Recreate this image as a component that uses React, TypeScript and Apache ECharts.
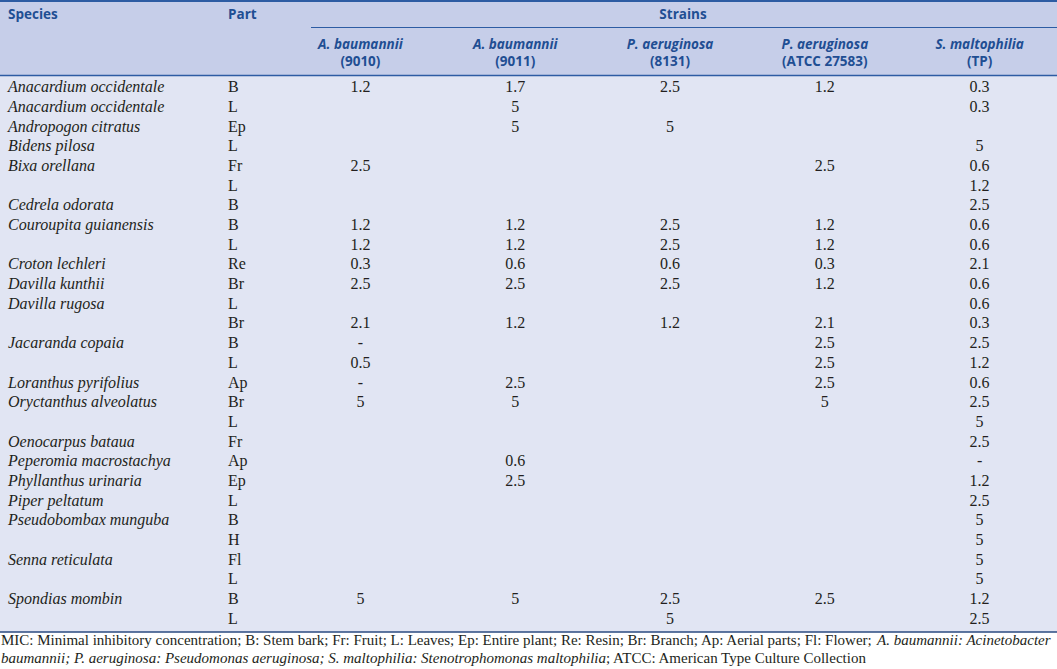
import React, { useEffect, useRef } from "react";
import * as echarts from "echarts";

const strainNames = ["A. baumannii", "A. baumannii", "P. aeruginosa", "P. aeruginosa", "S. maltophilia"];
const strainIds = ["(9010)", "(9011)", "(8131)", "(ATCC 27583)", "(TP)"];

const species = [
  "Anacardium occidentale", "Anacardium occidentale", "Andropogon citratus", "Bidens pilosa",
  "Bixa orellana", "", "Cedrela odorata", "Couroupita guianensis", "", "Croton lechleri",
  "Davilla kunthii", "Davilla rugosa", "", "Jacaranda copaia", "", "Loranthus pyrifolius",
  "Oryctanthus alveolatus", "", "Oenocarpus bataua", "Peperomia macrostachya",
  "Phyllanthus urinaria", "Piper peltatum", "Pseudobombax munguba", "", "Senna reticulata",
  "", "Spondias mombin", "",
];
const parts = [
  "B", "L", "Ep", "L", "Fr", "L", "B", "B", "L", "Re", "Br", "L", "Br", "B", "L", "Ap",
  "Br", "L", "Fr", "Ap", "Ep", "L", "B", "H", "Fl", "L", "B", "L",
];
const ab9010 = ["1.2", "", "", "", "2.5", "", "", "1.2", "1.2", "0.3", "2.5", "", "2.1", "-", "0.5", "-", "5", "", "", "", "", "", "", "", "", "", "5", ""];
const ab9011 = ["1.7", "5", "5", "", "", "", "", "1.2", "1.2", "0.6", "2.5", "", "1.2", "", "", "2.5", "5", "", "", "0.6", "2.5", "", "", "", "", "", "5", ""];
const pa8131 = ["2.5", "", "5", "", "", "", "", "2.5", "2.5", "0.6", "2.5", "", "1.2", "", "", "", "", "", "", "", "", "", "", "", "", "", "2.5", "5"];
const pa27583 = ["1.2", "", "", "", "2.5", "", "", "1.2", "1.2", "0.3", "1.2", "", "2.1", "2.5", "2.5", "2.5", "5", "", "", "", "", "", "", "", "", "", "2.5", ""];
const smTP = ["0.3", "0.3", "", "5", "0.6", "1.2", "2.5", "0.6", "0.6", "2.1", "0.6", "0.6", "0.3", "2.5", "1.2", "0.6", "2.5", "5", "2.5", "-", "1.2", "2.5", "5", "5", "5", "5", "1.2", "2.5"];

const columns = [ab9010, ab9011, pa8131, pa27583, smTP];

const HEAD_BLUE = "#1f4e93";
const LINE_BLUE = "#2d5ca3";
const TEXT = "#231f20";
const SERIF = "'Liberation Serif', 'Times New Roman', serif";
const SANS = "'Open Sans', 'Noto Sans', sans-serif";

export default function App() {
  const ref = useRef<HTMLDivElement>(null);
  useEffect(() => {
    if (!ref.current) return;
    const chart = echarts.init(ref.current, null, { renderer: "svg" });
    const rowIdx = parts.map((_, i) => String(i));
    const cells: { c: number; r: number; t: string }[] = [];
    columns.forEach((col, c) =>
      col.forEach((t, r) => {
        if (t !== "") cells.push({ c, r, t });
      })
    );
    const gridLeft = 283;
    const gridTop = 77;
    const gridH = 551;
    const footRich = {
      n: { fontFamily: SERIF, fontSize: 15, fill: TEXT, color: TEXT },
      i: { fontFamily: SERIF, fontSize: 15, fontStyle: "italic", fill: TEXT, color: TEXT },
    };
    chart.setOption({
      animation: false,
      backgroundColor: "#ffffff",
      grid: { left: gridLeft, top: gridTop, width: 790, height: gridH, containLabel: false },
      graphic: [
        { type: "rect", z: -10, shape: { x: 0, y: 0, width: 1057, height: 76 }, style: { fill: "#c6cee9" } },
        { type: "rect", z: -10, shape: { x: 0, y: 76, width: 1057, height: 556 }, style: { fill: "#e1e5f3" } },
        { type: "line", shape: { x1: 0, y1: 1, x2: 1057, y2: 1 }, style: { stroke: LINE_BLUE, lineWidth: 2 } },
        { type: "line", shape: { x1: 311, y1: 27.5, x2: 1057, y2: 27.5 }, style: { stroke: LINE_BLUE, lineWidth: 1.2 } },
        { type: "line", shape: { x1: 0, y1: 75.5, x2: 1057, y2: 75.5 }, style: { stroke: LINE_BLUE, lineWidth: 1.5 } },
        { type: "line", shape: { x1: 0, y1: 632, x2: 1057, y2: 632 }, style: { stroke: "#2a4a80", lineWidth: 1.5 } },
        { type: "text", x: 8, y: 14, style: { text: "Species", fill: HEAD_BLUE, font: `bold 13.5px ${SANS}`, verticalAlign: "middle" } },
        { type: "text", x: 228, y: 14, style: { text: "Part", fill: HEAD_BLUE, font: `bold 13.5px ${SANS}`, verticalAlign: "middle" } },
        { type: "text", x: 683, y: 14, style: { text: "Strains", fill: HEAD_BLUE, font: `bold 13.5px ${SANS}`, align: "center", verticalAlign: "middle" } },
        {
          type: "text", x: 1, y: 640,
          style: {
            text: "{n|MIC: Minimal inhibitory concentration; B: Stem bark; Fr: Fruit; L: Leaves; Ep: Entire plant; Re: Resin; Br: Branch; Ap: Aerial parts; Fl: Flower; }{i|A. baumannii: Acinetobacter}",
            verticalAlign: "middle",
            rich: footRich,
          },
        },
        {
          type: "text", x: 1, y: 658,
          style: {
            text: "{i|baumannii; P. aeruginosa: Pseudomonas aeruginosa; S. maltophilia: Stenotrophomonas maltophilia}{n|; ATCC: American Type Culture Collection}",
            verticalAlign: "middle",
            rich: footRich,
          },
        },
      ],
      xAxis: {
        type: "category",
        position: "top",
        data: strainNames.map((n, i) => n + "|" + strainIds[i]),
        axisLine: { show: false },
        axisTick: { show: false },
        splitLine: { show: false },
        axisLabel: {
          margin: 8,
          interval: 0,
          formatter: (v: string) => {
            const [n, id] = v.split("|");
            return `{a|${n}}\n{b|${id}}`;
          },
          rich: {
            a: { fontFamily: SANS, fontSize: 13.5, fontWeight: "bold", fontStyle: "italic", color: HEAD_BLUE, lineHeight: 17 },
            b: { fontFamily: SANS, fontSize: 13.5, fontWeight: "bold", color: HEAD_BLUE, lineHeight: 17 },
          },
        },
      },
      yAxis: [
        {
          type: "category",
          inverse: true,
          data: rowIdx,
          axisLine: { show: false },
          axisTick: { show: false },
          splitLine: { show: false },
          axisLabel: {
            interval: 0,
            align: "left",
            margin: gridLeft - 8,
            formatter: (v: string) => species[Number(v)],
            fontFamily: SERIF,
            fontStyle: "italic",
            fontSize: 16,
            color: TEXT,
          },
        },
        {
          type: "category",
          inverse: true,
          position: "left",
          data: rowIdx,
          axisLine: { show: false },
          axisTick: { show: false },
          splitLine: { show: false },
          axisLabel: {
            interval: 0,
            align: "left",
            margin: gridLeft - 228,
            formatter: (v: string) => parts[Number(v)],
            fontFamily: SERIF,
            fontSize: 16,
            color: TEXT,
          },
        },
      ],
      series: [
        {
          type: "custom",
          coordinateSystem: "cartesian2d",
          data: cells.map((d) => [d.c, d.r]),
          renderItem: (params: any, api: any) => {
            const p = api.coord([api.value(0), api.value(1)]);
            return {
              type: "text",
              x: p[0],
              y: p[1],
              style: {
                text: cells[params.dataIndex].t,
                fill: TEXT,
                font: `16px ${SERIF}`,
                align: "center",
                verticalAlign: "middle",
              },
            };
          },
        },
      ],
    });
    return () => chart.dispose();
  }, []);
  return (
    <div
      ref={ref}
      style={{ position: "fixed", left: 0, top: 0, width: 1057, height: 669 }}
    />
  );
}
